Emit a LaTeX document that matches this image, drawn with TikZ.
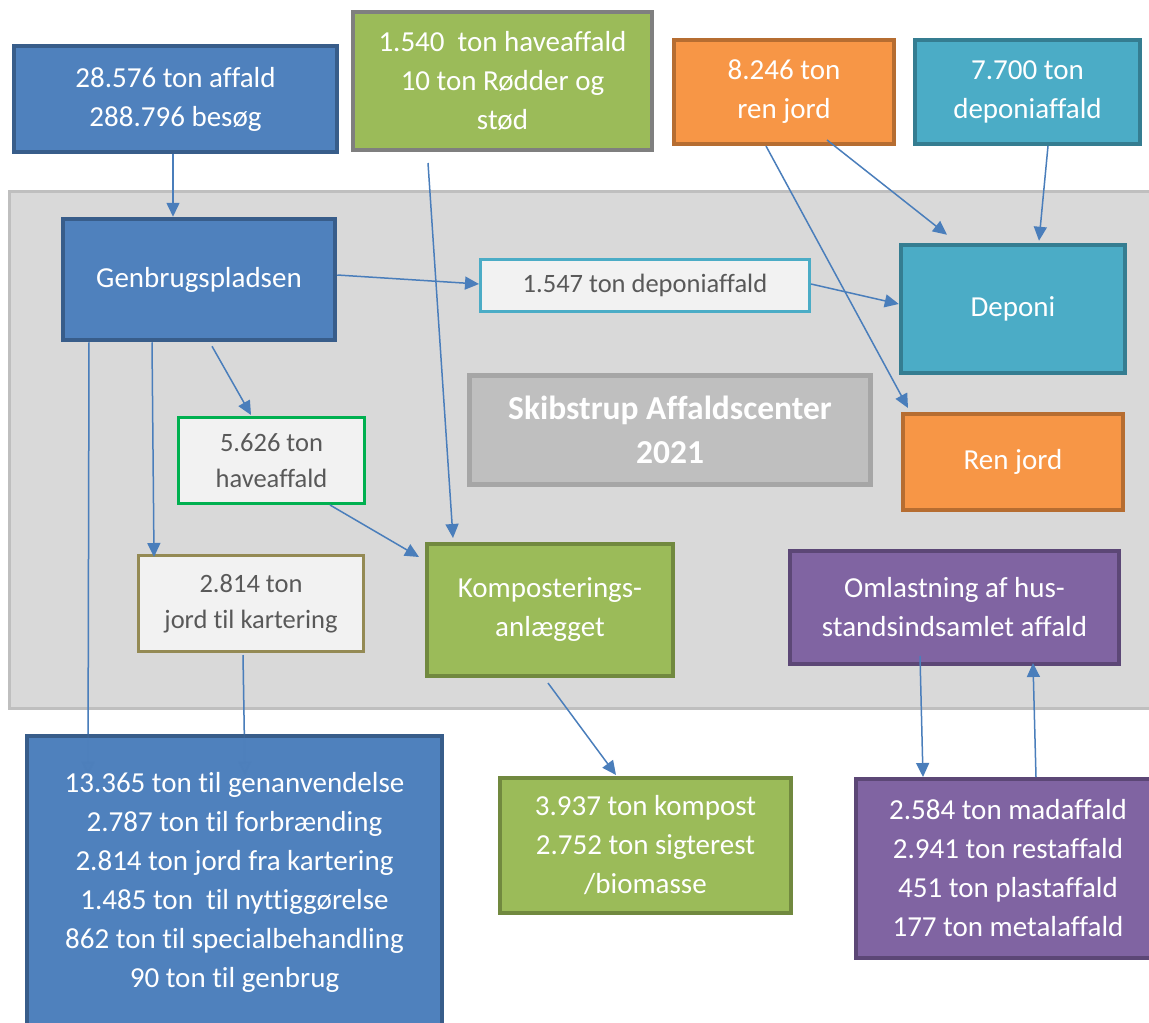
\documentclass[tikz,border=0pt]{standalone}
\usepackage{fontspec}
\setmainfont{Carlito}[Ligatures={NoCommon}]
\usetikzlibrary{arrows.meta}
\definecolor{cBlue}{HTML}{4F81BD}
\definecolor{cBlueD}{HTML}{385D8A}
\definecolor{cGreen}{HTML}{9BBB59}
\definecolor{cGreenD}{HTML}{71893F}
\definecolor{cGrayB}{HTML}{7F7F7F}
\definecolor{cOrange}{HTML}{F79646}
\definecolor{cOrangeD}{HTML}{B66D31}
\definecolor{cTeal}{HTML}{4BACC6}
\definecolor{cTealD}{HTML}{357D91}
\definecolor{cPurple}{HTML}{8064A2}
\definecolor{cPurpleD}{HTML}{5C4776}
\definecolor{cTitle}{HTML}{BFBFBF}
\definecolor{cTitleD}{HTML}{A6A6A6}
\definecolor{cBg}{HTML}{D9D9D9}
\definecolor{cBgD}{HTML}{BFBFBF}
\definecolor{cLight}{HTML}{F2F2F2}
\definecolor{cOlive}{HTML}{948A54}
\definecolor{cBright}{HTML}{00B050}
\definecolor{cTxt}{HTML}{595959}
\definecolor{cArr}{HTML}{4A7EBB}
\pgfdeclarelayer{front}
\pgfdeclarelayer{top}
\pgfsetlayers{main,front,top}
\tikzset{
  box/.style={rectangle, align=center, inner sep=0pt, text=white,
    font=\fontsize{29}{39}\selectfont},
  graybox/.style={rectangle, align=center, inner sep=0pt, text=cTxt,
    fill=cLight, line width=3pt, font=\fontsize{26.5}{36}\selectfont},
  bluebox/.style={box, fill=cBlue, draw=cBlueD, line width=4pt},
  greenbox/.style={box, fill=cGreen, draw=cGreenD, line width=4pt},
  orangebox/.style={box, fill=cOrange, draw=cOrangeD, line width=4pt},
  tealbox/.style={box, fill=cTeal, draw=cTealD, line width=4.5pt},
  purplebox/.style={box, fill=cPurple, draw=cPurpleD, line width=4pt},
  arr/.style={draw=cArr, line width=1.5pt, -{Triangle[length=14pt,width=13pt]}},
  faint/.style={draw opacity=0.18, fill opacity=0.18},
}
\begin{document}
\begin{tikzpicture}[x=1pt,y=-1pt]
\useasboundingbox (0,0) rectangle (1149,1023);
\clip (0,0) rectangle (1149,1023);
\fill[white] (0,0) rectangle (1149,1023);
% background area
\node[rectangle, fill=cBg, draw=cBgD, line width=3pt, minimum width=1154pt, minimum height=517pt, inner sep=0pt] (bg) at (586.5,450) {};
% top boxes
\node[bluebox, minimum width=323pt, minimum height=106pt] (A) at (175.5,99) {28.576 ton affald\\288.796 besøg};
\node[greenbox, draw=cGrayB, minimum width=299pt, minimum height=138pt] (B) at (502.5,81) {1.540~ ton haveaffald\\10 ton Rødder og\\stød};
\node[orangebox, minimum width=220pt, minimum height=104pt] (E) at (784,92) {8.246 ton\\ren jord};
\node[tealbox, line width=4pt, minimum width=225pt, minimum height=104pt] (F) at (1027.5,92) {7.700 ton\\deponiaffald};
% inner boxes
\node[bluebox, line width=4.5pt, minimum width=272pt, minimum height=121pt] (C) at (199,279.5) {Genbrugspladsen};
\node[graybox, draw=cTeal, minimum width=329pt, minimum height=52pt] (D) at (645,285.5) {1.547 ton deponiaffald};
\node[tealbox, minimum width=224pt, minimum height=128pt] (G) at (1013,309) {Deponi};
\node[rectangle, align=center, inner sep=0pt, fill=cTitle, draw=cTitleD, line width=5pt, text=white, font=\fontsize{33.5}{44}\selectfont\bfseries, minimum width=401pt, minimum height=109pt] (H) at (670,430) {Skibstrup Affaldscenter\\2021};
\node[orangebox, minimum width=220pt, minimum height=96pt] (I) at (1013,462) {Ren jord};
\node[graybox, draw=cBright, minimum width=186pt, minimum height=86pt] (P) at (271.5,460.5) {5.626 ton\\haveaffald};
\node[graybox, draw=cOlive, minimum width=225pt, minimum height=96pt] (J) at (251,603.5) {2.814 ton\\jord til kartering};
\node[greenbox, minimum width=246pt, minimum height=132pt] (K) at (550,610) {Komposterings-\\anlægget};
\node[purplebox, minimum width=329pt, minimum height=113pt] (N) at (954.5,607.5) {Omlastning af hus-\\standsindsamlet affald};
% bottom boxes
\node[greenbox, minimum width=291pt, minimum height=135pt] (M) at (645.5,845.5) {3.937 ton kompost\\2.752 ton sigterest\\/biomasse};
\node[purplebox, minimum width=304pt, minimum height=179pt] (O) at (1008,868.5) {2.584 ton madaffald\\2.941 ton restaffald\\451 ton plastaffald\\177 ton metalaffald};
% big blue box, on the front layer over the arrow ends
\begin{pgfonlayer}{front}
\node[bluebox, minimum width=415pt, minimum height=293pt] (L) at (234.5,882) {13.365 ton til genanvendelse\\2.787 ton til forbrænding\\2.814 ton jord fra kartering\\1.485 ton~ til nyttiggørelse\\862 ton til specialbehandling\\90 ton til genbrug};
\end{pgfonlayer}
% connectors
\draw[arr] ([xshift=-2.5pt]A.south) -- ([xshift=-26pt]C.north);
\draw[arr] ([yshift=4.5pt]C.east) -- ([yshift=1.5pt]D.west);
\draw[arr] ([yshift=1.5pt]D.east) -- ([yshift=5pt]G.west);
\draw[arr] ([xshift=43pt,yshift=6pt]E.south) -- ([xshift=-66pt,yshift=8pt]G.north);
\draw[arr] ([xshift=20.5pt]F.south) -- ([xshift=26pt,yshift=2pt]G.north);
\draw[arr] ([xshift=-18pt]E.south) -- ([xshift=-105pt,yshift=4pt]I.north);
\draw[arr] ([xshift=-74.5pt,yshift=-11pt]B.south) -- ([xshift=-97pt,yshift=4pt]K.north);
\draw[arr] ([xshift=-110pt]C.south) -- ([xshift=-146.5pt,yshift=-42pt]L.north);
\draw[arr] ([xshift=-8pt,yshift=-2pt]J.south) -- ([xshift=10.5pt,yshift=-42pt]L.north);
\draw[arr] ([xshift=-47pt]C.south) -- ([xshift=-97pt,yshift=-3pt]J.north);
\draw[arr] ([xshift=13pt,yshift=-4pt]C.south) -- ([xshift=-20.5pt,yshift=1pt]P.north);
\draw[arr] ([xshift=58.5pt]P.south) -- ([xshift=-6pt,yshift=53pt]K.west);
\draw[arr] ([xshift=-2pt,yshift=-5pt]K.south) -- ([xshift=-29.5pt,yshift=1pt]M.north);
\draw[arr] ([xshift=-34.5pt,yshift=10pt]N.south) -- ([xshift=-85pt]O.north);
\draw[arr] ([xshift=28pt]O.north) -- ([xshift=78.5pt,yshift=3pt]N.south);
% faint traces of the two arrow ends that show through the big blue box
\begin{pgfonlayer}{top}
\draw[arr, faint] ([xshift=-110pt]C.south) -- ([xshift=-146.5pt,yshift=-42pt]L.north);
\draw[arr, faint] ([xshift=-8pt,yshift=-2pt]J.south) -- ([xshift=10.5pt,yshift=-42pt]L.north);
\end{pgfonlayer}
\end{tikzpicture}
\end{document}
